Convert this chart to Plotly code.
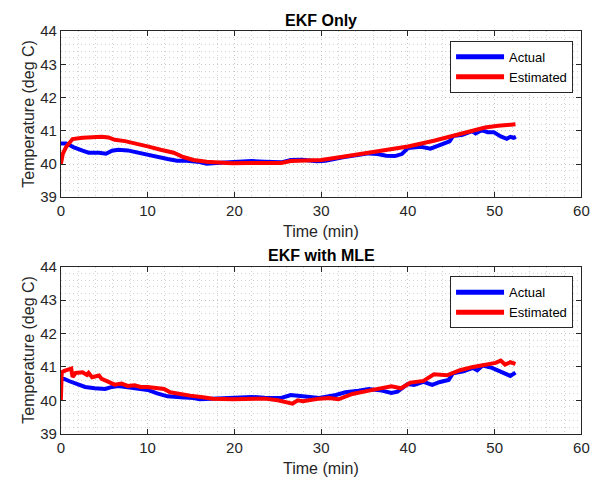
import plotly.graph_objects as go

W, H = 610, 489

# ---------------- data ----------------
t_act1 = [0, 0.6, 1.0, 1.5, 2.5, 3.2, 4.4, 5.2, 5.9, 6.6, 7.7, 8.9, 10.0, 11.1, 12.3, 13.4,
          14.5, 16.0, 16.8, 17.9, 19.8, 22.0, 23.5, 25.4, 26.5, 27.8, 29.5, 30.5, 32.5, 34.0,
          35.5, 36.5, 37.5, 38.5, 39.3, 40.0, 41.5, 42.6, 43.7, 44.8, 45.2, 46.3, 47.4, 47.8,
          48.5, 49.2, 49.9, 50.7, 51.4, 51.8, 52.2, 52.45]
T_act1 = [40.62, 40.62, 40.57, 40.50, 40.40, 40.34, 40.34, 40.31, 40.40, 40.43, 40.41, 40.34,
          40.27, 40.20, 40.15, 40.10, 40.10, 40.06, 40.01, 40.03, 40.05, 40.09, 40.07, 40.05,
          40.12, 40.13, 40.08, 40.10, 40.20, 40.25, 40.32, 40.30, 40.25, 40.24, 40.30, 40.48,
          40.52, 40.46, 40.57, 40.68, 40.84, 40.88, 40.99, 40.92, 41.02, 40.96, 40.96, 40.83,
          40.76, 40.82, 40.79, 40.82]

t_est1 = [0, 0.23, 0.6, 1.0, 1.35, 2.5, 3.6, 4.7, 5.5, 6.2, 7.4, 8.5, 10.0, 11.5, 13.0, 14.1,
          15.3, 16.8, 17.9, 19.7, 21.6, 23.5, 25.4, 26.5, 27.8, 30.0, 32.5, 35.5, 38.0, 40.0,
          43.0, 45.2, 47.4, 48.9, 50.4, 52.4]
T_est1 = [40.0, 40.31, 40.51, 40.66, 40.75, 40.79, 40.81, 40.82, 40.80, 40.73, 40.69, 40.63,
          40.53, 40.43, 40.34, 40.21, 40.12, 40.07, 40.05, 40.02, 40.03, 40.04, 40.03, 40.09,
          40.10, 40.12, 40.22, 40.35, 40.44, 40.53, 40.70, 40.85, 41.00, 41.10, 41.15, 41.20]

t_act2 = [0, 0.4, 1.0, 1.7, 2.8, 3.9, 5.1, 5.9, 6.6, 7.7, 8.9, 10.0, 11.1, 12.3, 13.8, 15.3,
          16.0, 17.9, 19.8, 22.0, 23.5, 25.4, 26.5, 27.9, 29.8, 31.7, 32.8, 34.3, 35.5, 37.0,
          38.1, 38.8, 40.0, 40.7, 41.8, 42.8, 43.7, 44.7, 45.2, 46.4, 47.5, 48.0, 48.6, 49.7,
          50.5, 51.2, 51.8, 52.4]
T_act2 = [40.64, 40.64, 40.57, 40.50, 40.40, 40.36, 40.34, 40.40, 40.43, 40.39, 40.36, 40.31,
          40.21, 40.12, 40.09, 40.07, 40.03, 40.05, 40.07, 40.10, 40.08, 40.07, 40.16, 40.13,
          40.07, 40.16, 40.24, 40.29, 40.34, 40.29, 40.22, 40.26, 40.49, 40.46, 40.55, 40.46,
          40.55, 40.61, 40.81, 40.87, 40.97, 40.90, 41.04, 40.97, 40.87, 40.78, 40.73, 40.83]

t_est2 = [0, 0.1, 0.4, 0.8, 1.2, 1.35, 1.7, 2.5, 3.0, 3.2, 3.6, 4.4, 4.7, 5.5, 6.2, 7.0, 7.7,
          8.5, 9.2, 10.0, 11.1, 11.9, 12.6, 13.8, 14.9, 16.4, 17.5, 19.8, 21.6, 23.5, 25.0,
          26.1, 26.7, 27.3, 27.9, 29.8, 30.9, 32.0, 33.6, 35.5, 37.0, 38.1, 39.2, 40.3, 41.8,
          43.0, 44.5, 46.0, 47.5, 49.0, 50.1, 50.7, 51.2, 51.8, 52.4]
T_est2 = [40.0, 40.84, 40.88, 40.93, 40.95, 40.70, 40.82, 40.84, 40.76, 40.82, 40.69, 40.74,
          40.64, 40.55, 40.47, 40.50, 40.43, 40.45, 40.40, 40.40, 40.37, 40.34, 40.24, 40.18,
          40.14, 40.09, 40.05, 40.03, 40.03, 40.05, 40.00, 39.95, 39.90, 40.00, 39.97, 40.05,
          40.07, 40.03, 40.19, 40.29, 40.36, 40.42, 40.36, 40.53, 40.58, 40.78, 40.75, 40.90,
          41.00, 41.07, 41.12, 41.19, 41.07, 41.14, 41.09]

titles = ["EKF Only", "EKF with MLE"]
series_names = ["Actual", "Estimated"]
x_ticks = [0, 10, 20, 30, 40, 50, 60]
y_ticks = [39, 40, 41, 42, 43, 44]

# ---------------- layout geometry ----------------
FONT = "Liberation Sans, Arial, sans-serif"
AX = "#262626"
BLUE = "#0000FF"
RED = "#FF0000"
GRID = "#c4c4c4"
GRID_MINOR = "#d2d2d2"
DASH = "1px,3px"
LW = 4

x_dom = [58 / W, 589 / W]
top_px = (23, 195)
bot_px = (267, 440)
def ydom(p):
    return [(H - p[1]) / H, (H - p[0]) / H]

fig = go.Figure()

fig.add_trace(go.Scatter(x=t_act1, y=T_act1, mode="lines", name=series_names[0],
                         line=dict(color=BLUE, width=LW), xaxis="x", yaxis="y", legend="legend"))
fig.add_trace(go.Scatter(x=t_est1, y=T_est1, mode="lines", name=series_names[1],
                         line=dict(color=RED, width=LW), xaxis="x", yaxis="y", legend="legend"))
fig.add_trace(go.Scatter(x=t_act2, y=T_act2, mode="lines", name=series_names[0],
                         line=dict(color=BLUE, width=LW), xaxis="x2", yaxis="y2", legend="legend2"))
fig.add_trace(go.Scatter(x=t_est2, y=T_est2, mode="lines", name=series_names[1],
                         line=dict(color=RED, width=LW), xaxis="x2", yaxis="y2", legend="legend2"))

def xaxis(anchor):
    return dict(domain=x_dom, anchor=anchor, range=[0, 60], tickvals=x_ticks,
                showline=True, linecolor=AX, linewidth=1, mirror="ticks",
                ticks="inside", ticklen=5, tickcolor=AX,
                tickfont=dict(family=FONT, size=15, color=AX),
                showgrid=True, gridcolor=GRID, griddash=DASH, gridwidth=1,
                minor=dict(dtick=2, showgrid=True, gridcolor=GRID_MINOR, griddash=DASH, gridwidth=1),
                zeroline=False, fixedrange=True)

def yaxis(anchor, dom):
    return dict(domain=dom, anchor=anchor, range=[39, 44], tickvals=y_ticks,
                showline=True, linecolor=AX, linewidth=1, mirror="ticks",
                ticks="inside", ticklen=5, tickcolor=AX,
                tickfont=dict(family=FONT, size=15, color=AX),
                showgrid=True, gridcolor=GRID, griddash=DASH, gridwidth=1,
                minor=dict(dtick=0.2, showgrid=True, gridcolor=GRID_MINOR, griddash=DASH, gridwidth=1),
                zeroline=False, fixedrange=True)

def legend(top_y):
    return dict(x=455 / W, y=(H - top_y) / H, xanchor="left", yanchor="top",
                bgcolor="white", bordercolor=AX, borderwidth=1,
                font=dict(family=FONT, size=13, color="black"),
                itemwidth=48, tracegroupgap=0, itemsizing="constant")

annotations = []
for txt, yc in [(titles[0], 12), (titles[1], 255)]:
    annotations.append(dict(text="<b>%s</b>" % txt, x=(58 + 589) / 2 / W, y=(H - yc) / H,
                            xref="paper", yref="paper", showarrow=False, xanchor="center",
                            yanchor="middle", font=dict(family=FONT, size=16, color="black")))
for yc in [231, 476]:
    annotations.append(dict(text="Time (min)", x=(58 + 589) / 2 / W, y=(H - yc) / H,
                            xref="paper", yref="paper", showarrow=False, xanchor="center",
                            yanchor="middle", font=dict(family=FONT, size=16, color=AX)))
for yc in [(top_px[0] + top_px[1]) / 2, (bot_px[0] + bot_px[1]) / 2]:
    annotations.append(dict(text="Temperature (deg C)", x=25 / W, y=(H - yc) / H,
                            xref="paper", yref="paper", showarrow=False, xanchor="center",
                            yanchor="middle", textangle=-90,
                            font=dict(family=FONT, size=16, color=AX)))

fig.update_layout(
    width=W, height=H,
    margin=dict(l=0, r=0, t=0, b=0),
    paper_bgcolor="white", plot_bgcolor="white",
    xaxis=xaxis("y"), yaxis=yaxis("x", ydom(top_px)),
    xaxis2=xaxis("y2"), yaxis2=yaxis("x2", ydom(bot_px)),
    legend=legend(33), legend2=legend(277),
    annotations=annotations,
    showlegend=True,
)

fig.write_html("out.html")
